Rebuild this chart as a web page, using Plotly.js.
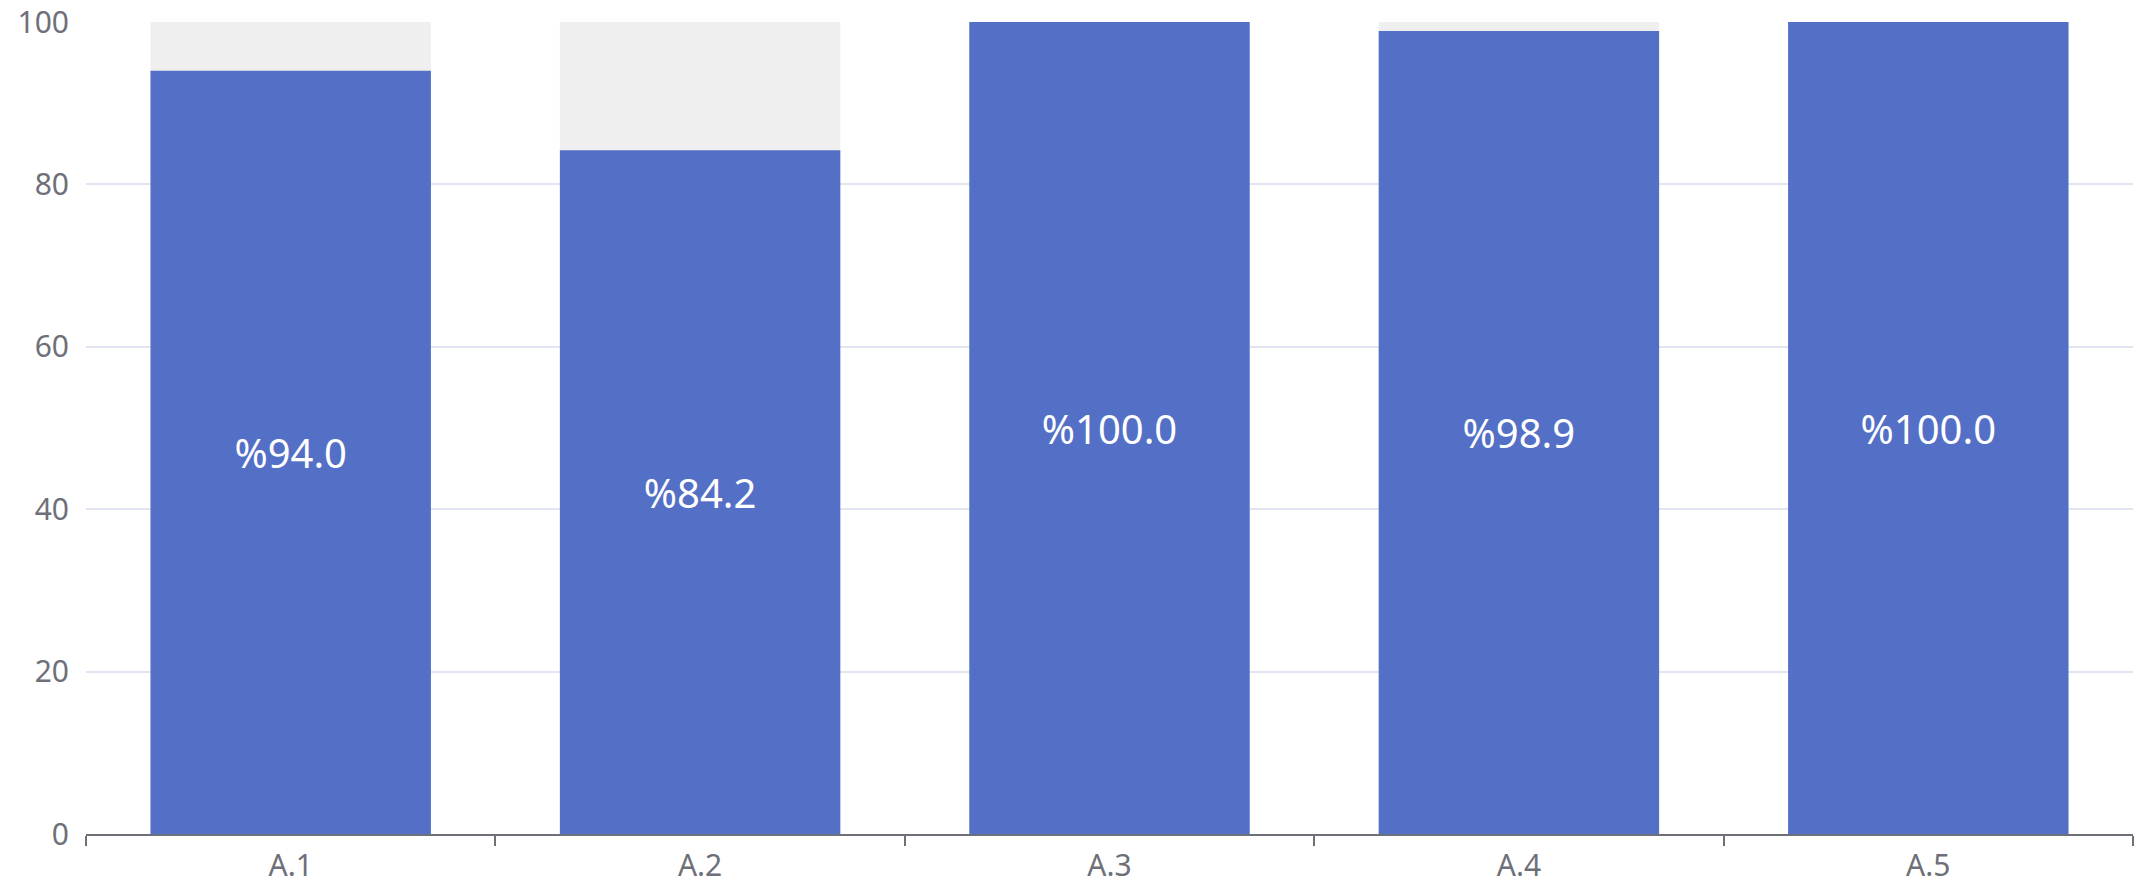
<!DOCTYPE html>
<html>
<head>
<meta charset="utf-8">
<script src="https://cdn.plot.ly/plotly-3.0.1.min.js"></script>
<style>html,body{margin:0;padding:0;background:#fff;}#chart{width:2134px;height:885px;}</style>
</head>
<body>
<div id="chart"></div>
<script>
const categories = ["A.1", "A.2", "A.3", "A.4", "A.5"];
const values = [94.0, 84.2, 100.0, 98.9, 100.0];
const backgroundValues = [100, 100, 100, 100, 100];
const yTicks = [0, 20, 40, 60, 80, 100];

const labels = values.map(v => "%" + v.toFixed(1));

const traces = [
  {
    type: "bar",
    x: categories,
    y: backgroundValues,
    marker: {color: "#efefef"},
    hoverinfo: "skip",
    showlegend: false
  },
  {
    type: "bar",
    x: categories,
    y: values,
    marker: {color: "#5470c6"},
    text: labels,
    textposition: "inside",
    insidetextanchor: "middle",
    textangle: 0,
    constraintext: "none",
    textfont: {family: "Noto Sans, sans-serif", size: 40, color: "#ffffff"},
    showlegend: false
  }
];

const layout = {
  width: 2134,
  height: 885,
  margin: {l: 86, r: 1, t: 22, b: 51},
  paper_bgcolor: "#ffffff",
  plot_bgcolor: "#ffffff",
  barmode: "overlay",
  bargap: 0.315,
  font: {family: "Noto Sans, sans-serif", color: "#6e7079"},
  xaxis: {
    type: "category",
    showline: true,
    linecolor: "#6e7079",
    linewidth: 2,
    ticks: "outside",
    tickson: "boundaries",
    ticklen: 10,
    tickwidth: 2,
    tickcolor: "#6e7079",
    showgrid: false,
    ticklabelstandoff: 4,
    tickfont: {size: 30, color: "#6e7079"},
    fixedrange: true
  },
  yaxis: {
    range: [0, 100],
    tickvals: yTicks,
    ticktext: yTicks.map(String),
    showgrid: true,
    gridcolor: "#e0e6f1",
    gridwidth: 2,
    zeroline: false,
    showline: false,
    ticks: "",
    ticklabelstandoff: 16,
    tickfont: {size: 30, color: "#6e7079"},
    fixedrange: true
  }
};

Plotly.newPlot("chart", traces, layout, {displayModeBar: false, staticPlot: true});
</script>
</body>
</html>
